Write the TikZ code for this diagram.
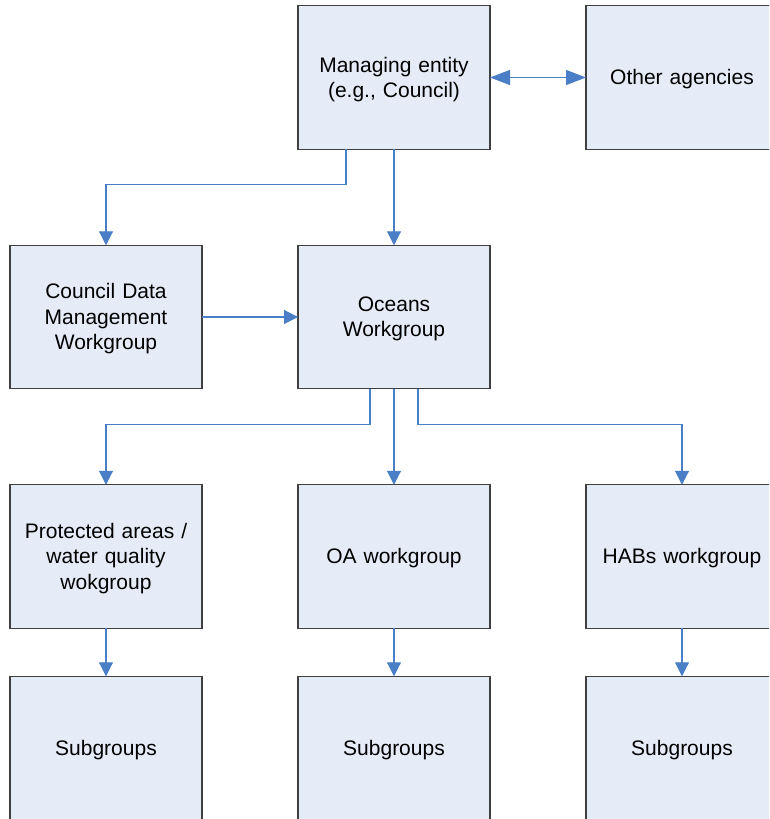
\documentclass[tikz,border=0pt]{standalone}
\usepackage{fontspec}
\setmainfont{Liberation Sans}
\usetikzlibrary{arrows.meta,calc}
\definecolor{boxfill}{HTML}{E6ECF7}
\definecolor{boxline}{HTML}{404040}
\definecolor{arrblue}{HTML}{4A7EC7}
\begin{document}
\begin{tikzpicture}[x=1pt,y=-1pt,
  box/.style={draw=boxline,fill=boxfill,line width=1.3pt,minimum width=192pt,minimum height=143.5pt,
    inner sep=0pt,outer sep=0pt},
  txt/.style={inner sep=0pt,align=center,text width=180pt,font=\fontsize{21}{25.5}\selectfont},
  arr/.style={draw=arrblue,line width=1.1pt,-{Triangle[length=14pt,width=14pt]}},
  darr/.style={draw=arrblue,line width=1.1pt,{Triangle[length=20pt,width=15pt]}-{Triangle[length=20pt,width=15pt]}}]
\useasboundingbox (0,0) rectangle (769,819);
\clip (0,0) rectangle (769,819);
\fill[white] (0,0) rectangle (769,819);
\node[box] (mg) at (394,77.5) {};
\node[box] (oth) at (682,77.5) {};
\node[box] (cd) at (106,317) {};
\node[box] (oc) at (394,317) {};
\node[box] (pa) at (106,556.5) {};
\node[box] (oa) at (394,556.5) {};
\node[box] (hab) at (682,556.5) {};
\node[box] (s1) at (106,748) {};
\node[box] (s2) at (394,748) {};
\node[box] (s3) at (682,748) {};
\node[txt] (mgt) at ([yshift=-2pt]mg.center) {Managing entity\\(e.g., Council)};
\node[txt] (otht) at ([yshift=-2pt]oth.center) {Other agencies};
\node[txt] (cdt) at ([yshift=-2pt]cd.center) {Council Data\\Management\\Workgroup};
\node[txt] (oct) at ([yshift=-2pt]oc.center) {Oceans\\Workgroup};
\node[txt] (pat) at ([yshift=-2pt]pa.center) {Protected areas /\\water quality\\wokgroup};
\node[txt] (oat) at ([yshift=-2pt]oa.center) {OA workgroup};
\node[txt] (habt) at ([yshift=-2pt]hab.center) {HABs workgroup};
\node[txt] (s1t) at ([yshift=-2pt]s1.center) {Subgroups};
\node[txt] (s2t) at ([yshift=-2pt]s2.center) {Subgroups};
\node[txt] (s3t) at ([yshift=-2pt]s3.center) {Subgroups};
\draw[darr] (mg.east) -- (oth.west);
\draw[arr] ([xshift=-48pt]mg.south) -- ++(0,35.5) -| (cd.north);
\draw[arr] (mg.south) -- (oc.north);
\draw[arr] (cd.east) -- (oc.west);
\draw[arr] ([xshift=-24pt]oc.south) -- ++(0,36) -| (pa.north);
\draw[arr] (oc.south) -- (oa.north);
\draw[arr] ([xshift=24pt]oc.south) -- ++(0,36) -| (hab.north);
\draw[arr] (pa.south) -- (s1.north);
\draw[arr] (oa.south) -- (s2.north);
\draw[arr] (hab.south) -- (s3.north);
\end{tikzpicture}
\end{document}
